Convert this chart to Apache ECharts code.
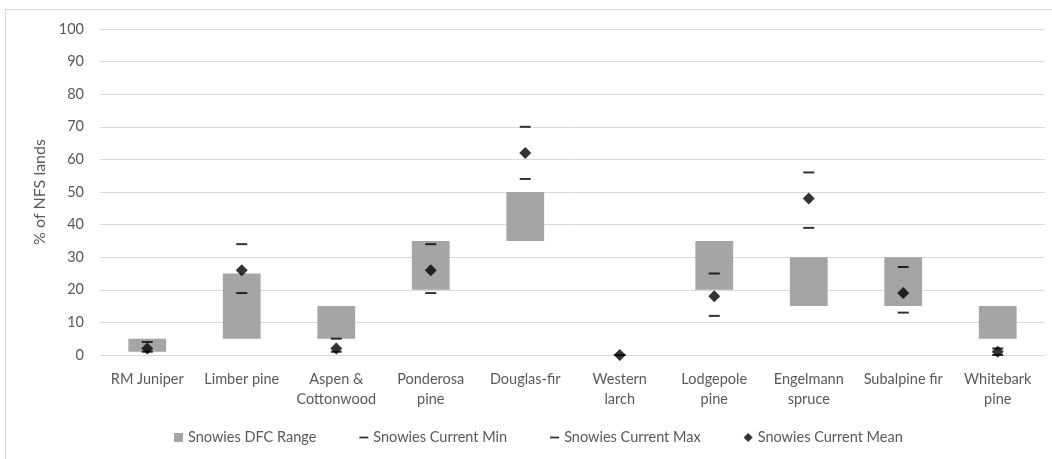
<!DOCTYPE html>
<html>
<head>
<meta charset="utf-8">
<script src="https://cdn.jsdelivr.net/npm/echarts@6/dist/echarts.min.js"></script>
<style>
  html, body { margin: 0; padding: 0; background: #fff; }
  #chart { width: 1052px; height: 459px; }
  #frame { position: absolute; left: 5px; top: 9px; width: 1100px; height: 500px;
           border: 1px solid #d9d9d9; box-sizing: border-box; pointer-events: none; }
</style>
</head>
<body>
<div id="chart"></div>
<div id="frame"></div>
<script>
// Forest cover types on Snowies NFS lands
const categories = ['RM Juniper', 'Limber pine', 'Aspen &\nCottonwood', 'Ponderosa\npine', 'Douglas-fir',
                    'Western\nlarch', 'Lodgepole\npine', 'Engelmann\nspruce', 'Subalpine fir', 'Whitebark\npine'];
// Desired future condition range (low / high)
const dfcLow  = [1, 5, 5, 20, 35, 0, 20, 15, 15, 5];
const dfcHigh = [5, 25, 15, 35, 50, 0, 35, 30, 30, 15];
// Current condition
const currentMin  = [1, 19, 1, 19, 54, 0, 12, 39, 13, 0];
const currentMax  = [4, 34, 5, 34, 70, 0, 25, 56, 27, 2];
const currentMean = [2, 26, 2, 26, 62, 0, 18, 48, 19, 1];
const yTicks = { min: 0, max: 100, interval: 10 };

const textColor = '#595959';
const font = 'Lato, "Open Sans", sans-serif';

const chart = echarts.init(document.getElementById('chart'), null, { renderer: 'canvas' });
chart.setOption({
  animation: false,
  grid: { left: 100, right: 7, top: 29, bottom: 104, containLabel: false },
  legend: {
    bottom: 9,
    left: 169,
    itemGap: 43,
    itemWidth: 9,
    itemHeight: 9,
    textStyle: { color: textColor, fontFamily: font, fontSize: 14.5 },
    data: [
      { name: 'Snowies DFC Range', icon: 'rect', itemStyle: { color: '#a5a5a5' } },
      { name: 'Snowies Current Min', icon: 'path://M0,0 L10,0 L10,2 L0,2 Z' },
      { name: 'Snowies Current Max', icon: 'path://M0,0 L10,0 L10,2 L0,2 Z' },
      { name: 'Snowies Current Mean', icon: 'diamond' }
    ]
  },
  xAxis: {
    type: 'category',
    data: categories,
    axisLine: { lineStyle: { color: '#d9d9d9' } },
    axisTick: { show: false },
    axisLabel: { color: textColor, fontFamily: font, fontSize: 14.5, lineHeight: 20, margin: 14, interval: 0 }
  },
  yAxis: {
    type: 'value',
    min: yTicks.min, max: yTicks.max, interval: yTicks.interval,
    name: '% of NFS lands',
    nameLocation: 'middle',
    nameGap: 52,
    nameRotate: 90,
    nameTextStyle: { color: textColor, fontFamily: font, fontSize: 16 },
    axisLine: { show: false },
    axisTick: { show: false },
    axisLabel: { color: textColor, fontFamily: font, fontSize: 14.5, margin: 16 },
    splitLine: { lineStyle: { color: '#d9d9d9' } }
  },
  series: [
    {
      name: 'base', type: 'bar', stack: 'dfc', barWidth: '40%',
      data: dfcLow, itemStyle: { color: 'transparent' }, silent: true
    },
    {
      name: 'Snowies DFC Range', type: 'bar', stack: 'dfc', barWidth: '40%',
      data: dfcHigh.map((h, i) => h - dfcLow[i]),
      itemStyle: { color: '#a5a5a5' }
    },
    {
      name: 'Snowies Current Min', type: 'scatter', symbol: 'rect', symbolSize: [11, 2],
      data: currentMin, itemStyle: { color: '#000' }, z: 3
    },
    {
      name: 'Snowies Current Max', type: 'scatter', symbol: 'rect', symbolSize: [11, 2],
      data: currentMax, itemStyle: { color: '#000' }, z: 3
    },
    {
      name: 'Snowies Current Mean', type: 'scatter', symbol: 'diamond', symbolSize: 12,
      data: currentMean, itemStyle: { color: '#000' }, z: 4
    }
  ]
});
</script>
</body>
</html>
